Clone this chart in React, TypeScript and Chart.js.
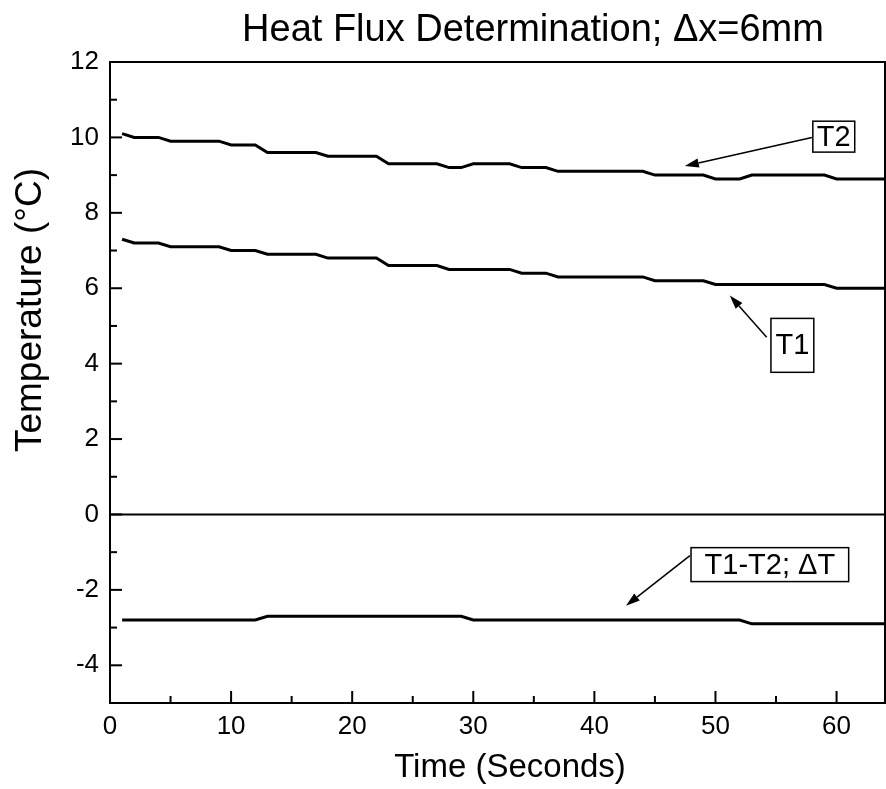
import React, { useEffect, useRef } from "react";
import { Chart, registerables } from "chart.js";

Chart.register(...registerables);

// ---------------- data ----------------
const times = [
  1, 2, 3, 4, 5, 6, 7, 8, 9, 10, 11, 12, 13, 14, 15, 16, 17, 18, 19, 20, 21, 22,
  23, 24, 25, 26, 27, 28, 29, 30, 31, 32, 33, 34, 35, 36, 37, 38, 39, 40, 41, 42,
  43, 44, 45, 46, 47, 48, 49, 50, 51, 52, 53, 54, 55, 56, 57, 58, 59, 60, 61, 62,
  63, 64,
];

const t2Values = [
  10.1, 10.0, 10.0, 10.0, 9.9, 9.9, 9.9, 9.9, 9.9, 9.8, 9.8, 9.8, 9.6, 9.6, 9.6,
  9.6, 9.6, 9.5, 9.5, 9.5, 9.5, 9.5, 9.3, 9.3, 9.3, 9.3, 9.3, 9.2, 9.2, 9.3, 9.3,
  9.3, 9.3, 9.2, 9.2, 9.2, 9.1, 9.1, 9.1, 9.1, 9.1, 9.1, 9.1, 9.1, 9.0, 9.0, 9.0,
  9.0, 9.0, 8.9, 8.9, 8.9, 9.0, 9.0, 9.0, 9.0, 9.0, 9.0, 9.0, 8.9, 8.9, 8.9, 8.9,
  8.9,
];

const t1Values = [
  7.3, 7.2, 7.2, 7.2, 7.1, 7.1, 7.1, 7.1, 7.1, 7.0, 7.0, 7.0, 6.9, 6.9, 6.9, 6.9,
  6.9, 6.8, 6.8, 6.8, 6.8, 6.8, 6.6, 6.6, 6.6, 6.6, 6.6, 6.5, 6.5, 6.5, 6.5, 6.5,
  6.5, 6.4, 6.4, 6.4, 6.3, 6.3, 6.3, 6.3, 6.3, 6.3, 6.3, 6.3, 6.2, 6.2, 6.2, 6.2,
  6.2, 6.1, 6.1, 6.1, 6.1, 6.1, 6.1, 6.1, 6.1, 6.1, 6.1, 6.0, 6.0, 6.0, 6.0, 6.0,
];

const deltaValues = [
  -2.8, -2.8, -2.8, -2.8, -2.8, -2.8, -2.8, -2.8, -2.8, -2.8, -2.8, -2.8, -2.7,
  -2.7, -2.7, -2.7, -2.7, -2.7, -2.7, -2.7, -2.7, -2.7, -2.7, -2.7, -2.7, -2.7,
  -2.7, -2.7, -2.7, -2.8, -2.8, -2.8, -2.8, -2.8, -2.8, -2.8, -2.8, -2.8, -2.8,
  -2.8, -2.8, -2.8, -2.8, -2.8, -2.8, -2.8, -2.8, -2.8, -2.8, -2.8, -2.8, -2.8,
  -2.9, -2.9, -2.9, -2.9, -2.9, -2.9, -2.9, -2.9, -2.9, -2.9, -2.9, -2.9,
];

const xMajorTicks = [0, 10, 20, 30, 40, 50, 60];
const xMinorTicks = [5, 15, 25, 35, 45, 55];
const yMajorTicks = [-4, -2, 0, 2, 4, 6, 8, 10, 12];
const yMinorTicks = [-3, -1, 1, 3, 5, 7, 9, 11];

const titleText = "Heat Flux Determination; \u0394x=6mm";
const xTitleText = "Time (Seconds)";
const yTitleText = "Temperature (\u00B0C)";

// annotation labels (in data units)
const labelTexts = ["T2", "T1", "T1-T2; \u0394T"];
const labelBoxes = [
  [58.04, 10.43, 61.5, 9.61],
  [54.58, 5.2, 58.12, 3.77],
  [47.98, -0.88, 61.0, -1.78],
];
const arrowTails = [
  [57.96, 10.0],
  [54.23, 4.7],
  [47.89, -1.09],
];
const arrowTips = [
  [47.47, 9.24],
  [51.18, 5.81],
  [42.61, -2.42],
];

const FONT = "'Liberation Sans', Arial, Helvetica, sans-serif";

const decorPlugin = {
  id: "decor",
  beforeDatasetsDraw(chart: any) {
    const { ctx, chartArea: a, scales } = chart;
    const y = scales.y;
    ctx.save();
    ctx.strokeStyle = "#000";
    ctx.lineWidth = 2;
    const y0 = y.getPixelForValue(0);
    ctx.beginPath();
    ctx.moveTo(a.left, y0);
    ctx.lineTo(a.right, y0);
    ctx.stroke();
    ctx.restore();
  },
  afterDraw(chart: any) {
    const { ctx, chartArea: a, scales } = chart;
    const x = scales.x;
    const y = scales.y;
    ctx.save();
    ctx.strokeStyle = "#000";
    ctx.fillStyle = "#000";
    ctx.lineWidth = 2;
    // frame
    ctx.strokeRect(a.left, a.top, a.right - a.left, a.bottom - a.top);

    // inward ticks
    const tick = (x1: number, y1: number, x2: number, y2: number) => {
      ctx.beginPath();
      ctx.moveTo(x1, y1);
      ctx.lineTo(x2, y2);
      ctx.stroke();
    };
    xMajorTicks.forEach((v) => {
      const px = x.getPixelForValue(v);
      tick(px, a.bottom, px, a.bottom - 12);
    });
    xMinorTicks.forEach((v) => {
      const px = x.getPixelForValue(v);
      tick(px, a.bottom, px, a.bottom - 7);
    });
    yMajorTicks.forEach((v) => {
      const py = y.getPixelForValue(v);
      tick(a.left, py, a.left + 12, py);
    });
    yMinorTicks.forEach((v) => {
      const py = y.getPixelForValue(v);
      tick(a.left, py, a.left + 7, py);
    });

    // titles
    ctx.textAlign = "center";
    ctx.textBaseline = "middle";
    ctx.font = `38px ${FONT}`;
    ctx.fillText(titleText, 533, 31);
    ctx.font = `33px ${FONT}`;
    ctx.fillText(xTitleText, 510, 768);
    ctx.save();
    ctx.translate(31, 310);
    ctx.rotate(-Math.PI / 2);
    ctx.font = `37px ${FONT}`;
    ctx.fillText(yTitleText, 0, 0);
    ctx.restore();

    // annotation boxes
    ctx.lineWidth = 1.5;
    ctx.font = `29px ${FONT}`;
    labelTexts.forEach((t, i) => {
      const [bx1, by1, bx2, by2] = labelBoxes[i];
      const l = x.getPixelForValue(bx1);
      const r = x.getPixelForValue(bx2);
      const tp = y.getPixelForValue(by1);
      const bt = y.getPixelForValue(by2);
      ctx.fillStyle = "#fff";
      ctx.fillRect(l, tp, r - l, bt - tp);
      ctx.strokeRect(l, tp, r - l, bt - tp);
      ctx.fillStyle = "#000";
      ctx.fillText(t, (l + r) / 2, (tp + bt) / 2 + 1);

      // arrow
      const sx = x.getPixelForValue(arrowTails[i][0]);
      const sy = y.getPixelForValue(arrowTails[i][1]);
      const ex = x.getPixelForValue(arrowTips[i][0]);
      const ey = y.getPixelForValue(arrowTips[i][1]);
      const ang = Math.atan2(ey - sy, ex - sx);
      const hl = 14;
      const hw = 4.5;
      const bxp = ex - hl * Math.cos(ang);
      const byp = ey - hl * Math.sin(ang);
      ctx.beginPath();
      ctx.moveTo(sx, sy);
      ctx.lineTo(bxp, byp);
      ctx.stroke();
      ctx.beginPath();
      ctx.moveTo(ex, ey);
      ctx.lineTo(bxp + hw * Math.sin(ang), byp - hw * Math.cos(ang));
      ctx.lineTo(bxp - hw * Math.sin(ang), byp + hw * Math.cos(ang));
      ctx.closePath();
      ctx.fill();
    });
    ctx.restore();
  },
};

export default function App() {
  const ref = useRef<HTMLCanvasElement | null>(null);

  useEffect(() => {
    document.body.style.margin = "0";
    const canvas = ref.current;
    if (!canvas) return;
    const mk = (vals: number[]) => times.map((t, i) => ({ x: t, y: vals[i] }));
    const ds = (vals: number[]) => ({
      data: mk(vals),
      borderColor: "#000",
      borderWidth: 3,
      pointRadius: 0,
      fill: false,
      tension: 0,
    });
    const chart = new Chart(canvas, {
      type: "line",
      data: {
        datasets: [ds(t2Values), ds(t1Values), ds(deltaValues)] as any,
      },
      plugins: [decorPlugin],
      options: {
        responsive: false,
        animation: false,
        layout: { padding: { left: 0, right: 1, top: 62, bottom: 0 } },
        plugins: {
          legend: { display: false },
          tooltip: { enabled: false },
          title: { display: false },
        },
        scales: {
          x: {
            type: "linear",
            min: 0,
            max: 64,
            afterBuildTicks: (s: any) => {
              s.ticks = xMajorTicks.map((v) => ({ value: v }));
            },
            afterFit: (s: any) => {
              s.height = 86;
            },
            grid: { display: false, drawTicks: false },
            border: { display: false },
            ticks: {
              color: "#000",
              font: { family: FONT, size: 26 },
              padding: 8,
              maxRotation: 0,
              autoSkip: false,
            },
          },
          y: {
            type: "linear",
            min: -5,
            max: 12,
            afterBuildTicks: (s: any) => {
              s.ticks = yMajorTicks.map((v) => ({ value: v }));
            },
            afterFit: (s: any) => {
              s.width = 110;
            },
            grid: { display: false, drawTicks: false },
            border: { display: false },
            ticks: {
              color: "#000",
              font: { family: FONT, size: 26 },
              padding: 11,
              autoSkip: false,
            },
          },
        },
      } as any,
    });
    return () => chart.destroy();
  }, []);

  return (
    <canvas
      ref={ref}
      width={886}
      height={789}
      style={{ display: "block", width: 886, height: 789 }}
    />
  );
}
